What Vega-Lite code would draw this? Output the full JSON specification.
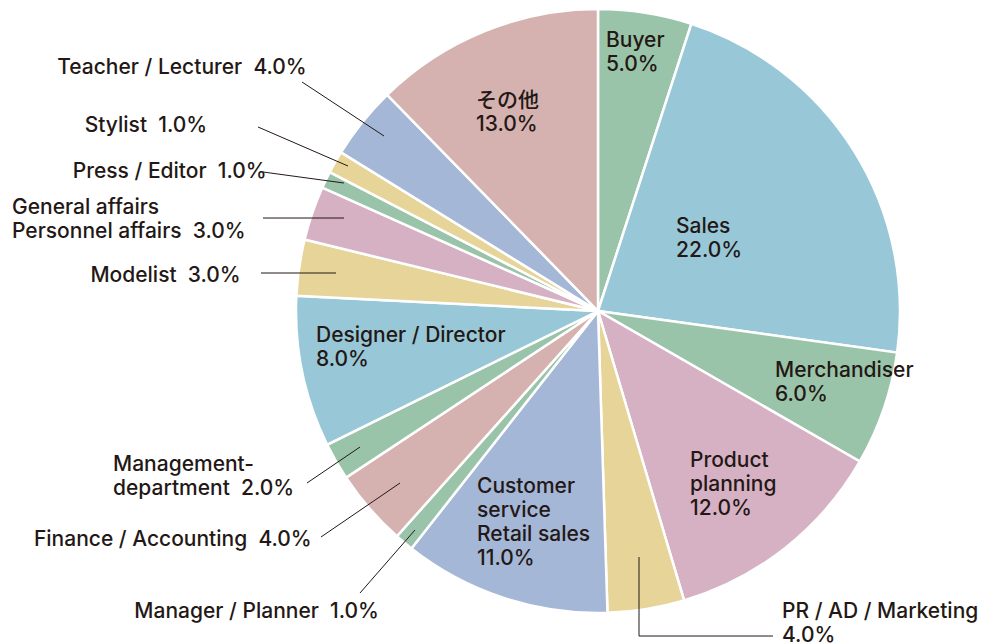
{
  "$schema": "https://vega.github.io/schema/vega-lite/v6.json",
  "width": 999,
  "height": 644,
  "padding": 0,
  "autosize": {"type": "none"},
  "background": "white",
  "config": {"view": {"stroke": null}},
  "datasets": {
    "shares": [
      {"idx": 1, "category": "Buyer", "value": 5.0},
      {"idx": 2, "category": "Sales", "value": 22.2},
      {"idx": 3, "category": "Merchandiser", "value": 6.1},
      {"idx": 4, "category": "Product planning", "value": 12.1},
      {"idx": 5, "category": "PR / AD / Marketing", "value": 4.1},
      {"idx": 6, "category": "Customer service Retail sales", "value": 11.1},
      {"idx": 7, "category": "Manager / Planner", "value": 1.0},
      {"idx": 8, "category": "Finance / Accounting", "value": 4.1},
      {"idx": 9, "category": "Management-department", "value": 2.0},
      {"idx": 10, "category": "Designer / Director", "value": 8.1},
      {"idx": 11, "category": "Modelist", "value": 3.0},
      {"idx": 12, "category": "General affairs Personnel affairs", "value": 2.9},
      {"idx": 13, "category": "Press / Editor", "value": 0.9},
      {"idx": 14, "category": "Stylist", "value": 1.2},
      {"idx": 15, "category": "Teacher / Lecturer", "value": 3.9},
      {"idx": 16, "category": "その他", "value": 12.3}
    ],
    "leaders": [
      {"category": "Teacher / Lecturer", "x": -98.01, "y": 75.83, "x2": -70.86, "y2": 57.95},
      {"category": "Stylist", "x": -112.58, "y": 60.93, "x2": -82.78, "y2": 48.01},
      {"category": "Press / Editor", "x": -110.93, "y": 46.03, "x2": -84.11, "y2": 42.38},
      {"category": "General affairs Personnel affairs", "x": -110.93, "y": 30.79, "x2": -84.11, "y2": 30.79},
      {"category": "Modelist", "x": -111.59, "y": 12.58, "x2": -86.75, "y2": 12.58},
      {"category": "Management-department", "x": -96.36, "y": -56.95, "x2": -78.81, "y2": -45.03},
      {"category": "Finance / Accounting", "x": -91.72, "y": -74.83, "x2": -65.56, "y2": -56.95},
      {"category": "Manager / Planner", "x": -78.81, "y": -93.38, "x2": -60.6, "y2": -72.52},
      {"category": "PR / AD / Marketing", "x": 13.58, "y": -81.46, "x2": 13.58, "y2": -107.62},
      {"category": "PR / AD / Marketing", "x": 13.58, "y": -107.62, "x2": 57.95, "y2": -107.62}
    ],
    "labelsLeft": [
      {"x": 2.65, "y": 89.24, "label": "Buyer\n5.0%"},
      {"x": 25.83, "y": 27.98, "label": "Sales\n22.0%"},
      {"x": 58.61, "y": -20.03, "label": "Merchandiser\n6.0%"},
      {"x": 30.46, "y": -49.5, "label": "Product\nplanning\n12.0%"},
      {"x": -40.07, "y": -58.44, "label": "Customer\nservice\nRetail sales\n11.0%"},
      {"x": -93.38, "y": -8.44, "label": "Designer / Director\n8.0%"},
      {"x": -40.4, "y": 69.54, "label": "その他\n13.0%"},
      {"x": -194.04, "y": 34.27, "label": "General affairs\nPersonnel affairs\u00a0 3.0%"},
      {"x": -160.6, "y": -50.83, "label": "Management-\ndepartment\u00a0 2.0%"},
      {"x": 60.93, "y": -99.5, "label": "PR / AD / Marketing\n4.0%"}
    ],
    "labelsRight": [
      {"x": -96.46, "y": 80.46, "label": "Teacher / Lecturer\u00a0 4.0%"},
      {"x": -129.4, "y": 61.42, "label": "Stylist\u00a0 1.0%"},
      {"x": -109.7, "y": 46.19, "label": "Press / Editor\u00a0 1.0%"},
      {"x": -118.3, "y": 11.75, "label": "Modelist\u00a0 3.0%"},
      {"x": -94.8, "y": -75.66, "label": "Finance / Accounting\u00a0 4.0%"},
      {"x": -72.52, "y": -99.5, "label": "Manager / Planner\u00a0 1.0%"}
    ]
  },
  "layer": [
    {
      "data": {"name": "shares"},
      "mark": {"type": "arc", "outerRadius": 302, "stroke": "white", "strokeWidth": 2.5},
      "encoding": {
        "x": {"datum": 0, "type": "quantitative", "scale": {"domain": [-198.01, 132.78], "nice": false, "zero": false}, "axis": null},
        "y": {"datum": 0, "type": "quantitative", "scale": {"domain": [-110.26, 102.98], "nice": false, "zero": false}, "axis": null},
        "theta": {"field": "value", "type": "quantitative", "stack": true},
        "order": {"field": "idx", "type": "quantitative", "sort": "ascending"},
        "color": {
          "field": "category",
          "type": "nominal",
          "legend": null,
          "scale": {
            "domain": ["Buyer", "Sales", "Merchandiser", "Product planning", "PR / AD / Marketing", "Customer service Retail sales", "Manager / Planner", "Finance / Accounting", "Management-department", "Designer / Director", "Modelist", "General affairs Personnel affairs", "Press / Editor", "Stylist", "Teacher / Lecturer", "その他"],
            "range": ["#9ac4a9", "#98c8d7", "#9ac4a9", "#d6b1c3", "#e7d498", "#a4b7d6", "#9ac4a9", "#d5b2b0", "#9ac4a9", "#98c8d7", "#e7d498", "#d6b1c3", "#9ac4a9", "#e7d498", "#a4b7d6", "#d5b2b0"]
          }
        }
      }
    },
    {
      "data": {"name": "leaders"},
      "mark": {"type": "rule", "color": "#231815", "strokeWidth": 1},
      "encoding": {
        "x": {"field": "x", "type": "quantitative"},
        "y": {"field": "y", "type": "quantitative"},
        "x2": {"field": "x2"},
        "y2": {"field": "y2"}
      }
    },
    {
      "data": {"name": "labelsLeft"},
      "mark": {"type": "text", "align": "left", "baseline": "middle", "lineBreak": "\n", "lineHeight": 24, "font": "Inter, 'Noto Sans CJK JP', sans-serif", "fontSize": 21, "letterSpacing": 0.75, "fontWeight": 500, "color": "#231815"},
      "encoding": {
        "x": {"field": "x", "type": "quantitative"},
        "y": {"field": "y", "type": "quantitative"},
        "text": {"field": "label", "type": "nominal"}
      }
    },
    {
      "data": {"name": "labelsRight"},
      "mark": {"type": "text", "align": "right", "baseline": "middle", "lineBreak": "\n", "lineHeight": 24, "font": "Inter, 'Noto Sans CJK JP', sans-serif", "fontSize": 21, "letterSpacing": 0.75, "fontWeight": 500, "color": "#231815"},
      "encoding": {
        "x": {"field": "x", "type": "quantitative"},
        "y": {"field": "y", "type": "quantitative"},
        "text": {"field": "label", "type": "nominal"}
      }
    }
  ]
}
